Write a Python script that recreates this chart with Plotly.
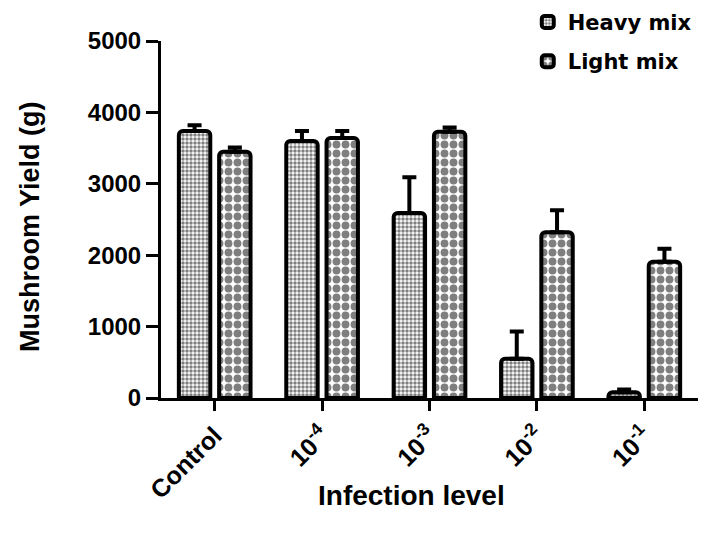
import plotly.graph_objects as go

categories = ["Control", "10<sup>-4</sup>", "10<sup>-3</sup>", "10<sup>-2</sup>", "10<sup>-1</sup>"]
heavy_mix = [3740, 3600, 2590, 550, 80]
heavy_err = [80, 140, 500, 380, 40]
light_mix = [3450, 3640, 3730, 2320, 1910]
light_err = [60, 100, 60, 310, 180]
y_ticks = [0, 1000, 2000, 3000, 4000, 5000]

fig = go.Figure()
fig.add_trace(go.Bar(
    name="Heavy mix", x=categories, y=heavy_mix, legendgroup="h",
    marker=dict(color="white", line=dict(color="black", width=4), cornerradius=4,
                pattern=dict(shape=".", size=4, solidity=0.6, fgcolor="black", bgcolor="white")),
    error_y=dict(type="data", array=heavy_err, arrayminus=[0]*5, symmetric=False,
                 color="black", thickness=4, width=7),
))
fig.add_trace(go.Bar(
    name="Light mix", x=categories, y=light_mix, legendgroup="l",
    marker=dict(color="white", line=dict(color="black", width=4), cornerradius=4,
                pattern=dict(shape=".", size=9, solidity=0.6, fgcolor="black", bgcolor="white")),
    error_y=dict(type="data", array=light_err, arrayminus=[0]*5, symmetric=False,
                 color="black", thickness=4, width=7),
))

fig.update_layout(
    width=712, height=540,
    margin=dict(l=153, r=22, t=33, b=150, autoexpand=False),
    paper_bgcolor="white", plot_bgcolor="white",
    barmode="group", bargap=0.25, bargroupgap=0.22,
    font=dict(family="Liberation Sans, Arial", color="black"),
    legend=dict(x=0.683, y=1.11, xanchor="left", yanchor="top",
                font=dict(family="DejaVu Sans", size=21, color="black", weight="bold"),
                tracegroupgap=9, itemwidth=30, bgcolor="rgba(0,0,0,0)"),
    showlegend=True,
    annotations=[
        dict(text="Infection level", xref="paper", yref="paper", x=0.466, y=0,
             yshift=-97, xanchor="center", yanchor="middle", showarrow=False,
             font=dict(size=28, weight="bold", family="Liberation Sans, Arial")),
        dict(text="Mushroom Yield (g)", xref="paper", yref="paper", x=0, y=0.479,
             xshift=-131, xanchor="center", yanchor="middle", showarrow=False, textangle=-90,
             font=dict(size=27, weight="bold", family="Liberation Sans, Arial")),
    ],
)
fig.update_xaxes(
    type="category", range=[-0.5, 4.5], automargin=False,
    showline=True, linecolor="black", linewidth=3,
    ticks="outside", ticklen=10, tickwidth=3, tickcolor="black",
    tickangle=-45, tickfont=dict(size=25, weight="bold"),
    showgrid=False, zeroline=False,
)
fig.update_yaxes(
    range=[0, 5000], tickvals=y_ticks, automargin=False,
    showline=True, linecolor="black", linewidth=3,
    ticks="outside", ticklen=12, tickwidth=3, tickcolor="black",
    tickfont=dict(size=24, weight="bold"),
    showgrid=False, zeroline=False,
)

fig.write_html("out.html")
